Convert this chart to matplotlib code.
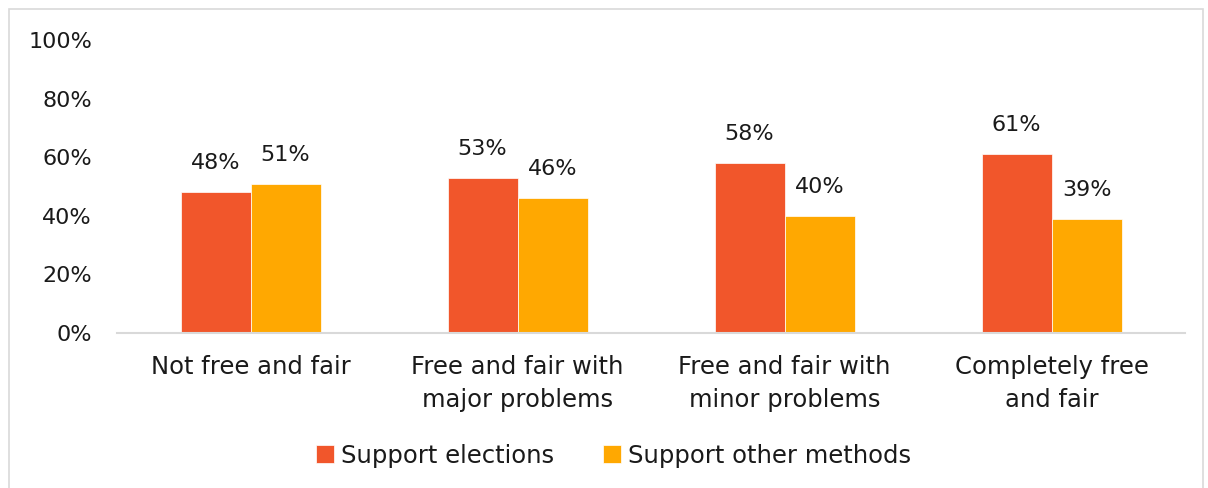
import matplotlib.pyplot as plt
import matplotlib.patches as mpatches
import numpy as np

# Data
categories = ['Not free and fair', 'Free and fair with\nmajor problems',
              'Free and fair with\nminor problems', 'Completely free\nand fair']
support_elections = [48, 53, 58, 61]
support_other = [51, 46, 40, 39]

red = '#F1562B'
orange = '#FFA801'

fig = plt.figure(figsize=(12.08, 4.88), dpi=100)
ax = fig.add_axes([0.0969, 0.3176, 0.8841, 0.6004])

# outer chart frame
fig.patches.append(mpatches.Rectangle((9 / 1208, -0.01), 1194 / 1208, 1 - 9 / 488 + 0.01,
                                      transform=fig.transFigure, fill=False,
                                      edgecolor='#D9D9D9', linewidth=1.2))

width = 0.262
ind = np.arange(len(categories))
bar1 = ax.bar(ind - width / 2, support_elections, width, color=red,
              label='Support elections', edgecolor='white', linewidth=0.5)
bar2 = ax.bar(ind + width / 2, support_other, width, color=orange,
              label='Support other methods', edgecolor='white', linewidth=0.5)

for bars, vals in ((bar1, support_elections), (bar2, support_other)):
    for b, v in zip(bars, vals):
        ax.text(b.get_x() + b.get_width() / 2, v + 6.5, f'{v}%', ha='center',
                va='bottom', fontsize=16, color='#1a1a1a')

ax.set_xlim(-0.5, 3.5)
ax.set_ylim(0, 100)
ax.set_yticks(range(0, 101, 20))
ax.set_yticklabels([f'{t}%' for t in range(0, 101, 20)])
ax.set_xticks(ind)
ax.set_xticklabels(categories, linespacing=1.45)
ax.tick_params(axis='both', length=0, labelcolor='#1a1a1a')
ax.tick_params(axis='x', pad=16, labelsize=17.5)
ax.tick_params(axis='y', pad=18, labelsize=16)

for s in ['top', 'right', 'left']:
    ax.spines[s].set_visible(False)
ax.spines['bottom'].set_color('#D9D9D9')
ax.spines['bottom'].set_linewidth(1.5)

fig.legend(handles=[bar1, bar2], loc='center', bbox_to_anchor=(0.508, 0.066),
           ncol=2, frameon=False, fontsize=17.5, handlelength=0.75, handleheight=0.75,
           handletextpad=0.3, columnspacing=2.0, labelcolor='#1a1a1a')

fig.savefig('out.png', dpi=100)
